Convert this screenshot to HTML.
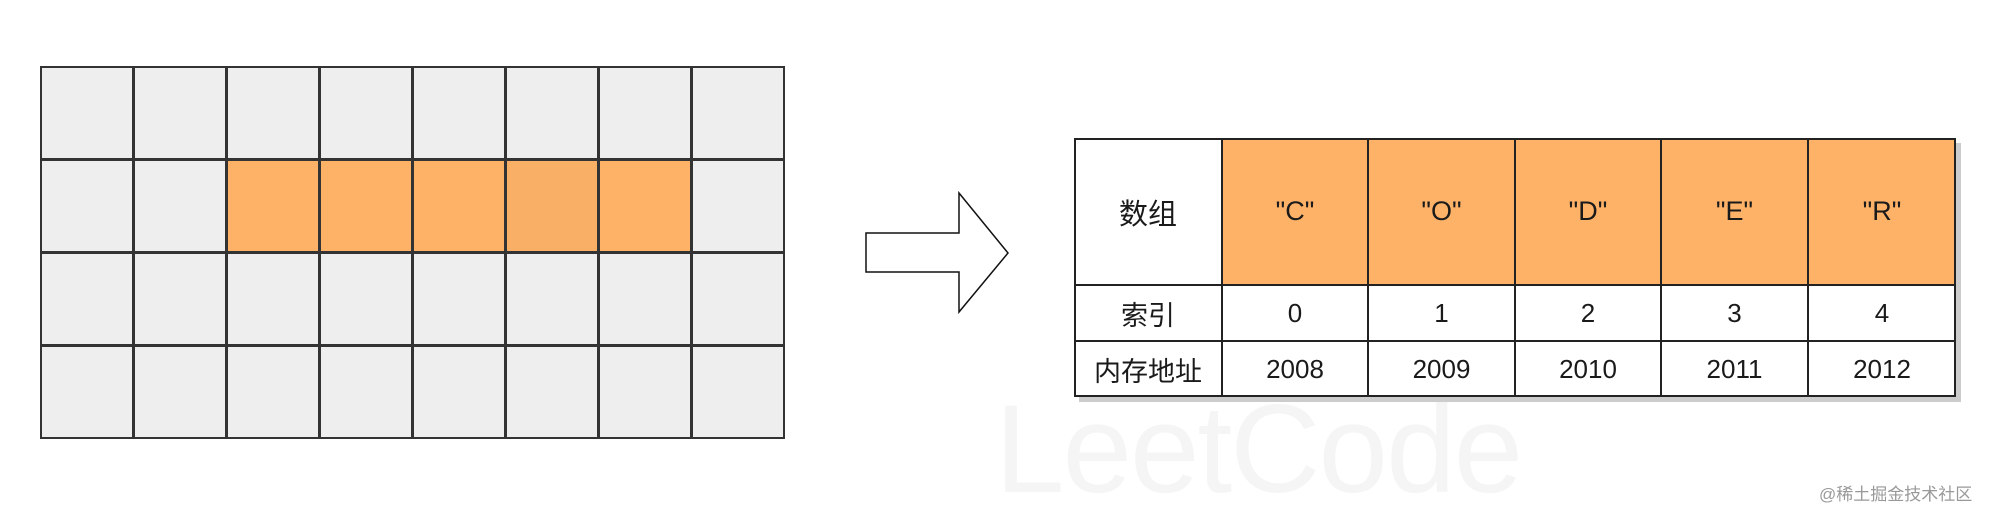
<!DOCTYPE html>
<html><head><meta charset="utf-8"><style>
body{margin:0;width:2000px;height:505px;background:#fff;position:relative;overflow:hidden;font-family:"Liberation Sans","Noto Sans CJK SC",sans-serif}
.a{position:absolute}
.c{position:absolute;box-sizing:border-box;border:2px solid #333;background:#eeeeee}
.t{position:absolute;display:flex;align-items:center;justify-content:center;color:#1a1a1a;font-weight:400}
</style></head><body>
<div class="a" style="left:995px;top:378px;font-size:125px;color:#f5f5f5;letter-spacing:-2px">LeetCode</div>
<svg class="a" style="left:0;top:0" width="2000" height="505">
<polygon points="866,233 959,233 959,193 1008,253 959,312 959,272 866,272" fill="#fff" stroke="#111" stroke-width="1.5"/>
<rect x="1079" y="143" width="882" height="259" fill="#ccc"/>
</svg>
<div class="a" style="left:1819px;top:480px;font-size:17px;color:#999">@稀土掘金技术社区</div>
<div class="a" style="left:40px;top:66px">
<div class="c" style="left:0;top:0;width:94px;height:94px"></div><div class="c" style="left:93px;top:0;width:94px;height:94px"></div><div class="c" style="left:186px;top:0;width:94px;height:94px"></div><div class="c" style="left:279px;top:0;width:94px;height:94px"></div><div class="c" style="left:372px;top:0;width:94px;height:94px"></div><div class="c" style="left:465px;top:0;width:94px;height:94px"></div><div class="c" style="left:558px;top:0;width:94px;height:94px"></div><div class="c" style="left:651px;top:0;width:94px;height:94px"></div>
<div class="c" style="left:0;top:93px;width:94px;height:94px"></div><div class="c" style="left:93px;top:93px;width:94px;height:94px"></div><div class="c" style="left:186px;top:93px;width:94px;height:94px;background:#fdb268"></div><div class="c" style="left:279px;top:93px;width:94px;height:94px;background:#fdb268"></div><div class="c" style="left:372px;top:93px;width:94px;height:94px;background:#fdb268"></div><div class="c" style="left:465px;top:93px;width:94px;height:94px;background:#f9af66"></div><div class="c" style="left:558px;top:93px;width:94px;height:94px;background:#fdb268"></div><div class="c" style="left:651px;top:93px;width:94px;height:94px"></div>
<div class="c" style="left:0;top:186px;width:94px;height:94px"></div><div class="c" style="left:93px;top:186px;width:94px;height:94px"></div><div class="c" style="left:186px;top:186px;width:94px;height:94px"></div><div class="c" style="left:279px;top:186px;width:94px;height:94px"></div><div class="c" style="left:372px;top:186px;width:94px;height:94px"></div><div class="c" style="left:465px;top:186px;width:94px;height:94px"></div><div class="c" style="left:558px;top:186px;width:94px;height:94px"></div><div class="c" style="left:651px;top:186px;width:94px;height:94px"></div>
<div class="c" style="left:0;top:279px;width:94px;height:94px"></div><div class="c" style="left:93px;top:279px;width:94px;height:94px"></div><div class="c" style="left:186px;top:279px;width:94px;height:94px"></div><div class="c" style="left:279px;top:279px;width:94px;height:94px"></div><div class="c" style="left:372px;top:279px;width:94px;height:94px"></div><div class="c" style="left:465px;top:279px;width:94px;height:94px"></div><div class="c" style="left:558px;top:279px;width:94px;height:94px"></div><div class="c" style="left:651px;top:279px;width:94px;height:94px"></div>
</div>
<div class="a" style="left:1074px;top:138px;width:882px;height:259px;background:#fff">
<div class="a" style="left:147px;top:0;width:735px;height:147px;background:#fdb268"></div>
<svg class="a" style="left:0;top:0" width="882" height="259">
<g stroke="#222" stroke-width="2" fill="none">
<rect x="1" y="1" width="880" height="257"/>
<line x1="0" y1="147" x2="882" y2="147"/><line x1="0" y1="203" x2="882" y2="203"/>
<line x1="148" y1="0" x2="148" y2="259"/><line x1="294" y1="0" x2="294" y2="259"/><line x1="441" y1="0" x2="441" y2="259"/><line x1="587" y1="0" x2="587" y2="259"/><line x1="734" y1="0" x2="734" y2="259"/>
</g></svg>
<div class="t" style="left:0;top:0;width:148px;height:147px;font-size:29px">数组</div>
<div class="t" style="left:148px;top:0;width:146px;height:147px;font-size:27px">"C"</div>
<div class="t" style="left:294px;top:0;width:147px;height:147px;font-size:27px">"O"</div>
<div class="t" style="left:441px;top:0;width:146px;height:147px;font-size:27px">"D"</div>
<div class="t" style="left:587px;top:0;width:147px;height:147px;font-size:27px">"E"</div>
<div class="t" style="left:734px;top:0;width:148px;height:147px;font-size:27px">"R"</div>
<div class="t" style="left:0;top:147px;width:148px;height:56px;font-size:27px">索引</div>
<div class="t" style="left:148px;top:147px;width:146px;height:56px;font-size:26px">0</div>
<div class="t" style="left:294px;top:147px;width:147px;height:56px;font-size:26px">1</div>
<div class="t" style="left:441px;top:147px;width:146px;height:56px;font-size:26px">2</div>
<div class="t" style="left:587px;top:147px;width:147px;height:56px;font-size:26px">3</div>
<div class="t" style="left:734px;top:147px;width:148px;height:56px;font-size:26px">4</div>
<div class="t" style="left:0;top:203px;width:148px;height:56px;font-size:27px">内存地址</div>
<div class="t" style="left:148px;top:203px;width:146px;height:56px;font-size:26px">2008</div>
<div class="t" style="left:294px;top:203px;width:147px;height:56px;font-size:26px">2009</div>
<div class="t" style="left:441px;top:203px;width:146px;height:56px;font-size:26px">2010</div>
<div class="t" style="left:587px;top:203px;width:147px;height:56px;font-size:26px">2011</div>
<div class="t" style="left:734px;top:203px;width:148px;height:56px;font-size:26px">2012</div>
</div>
</body></html>
